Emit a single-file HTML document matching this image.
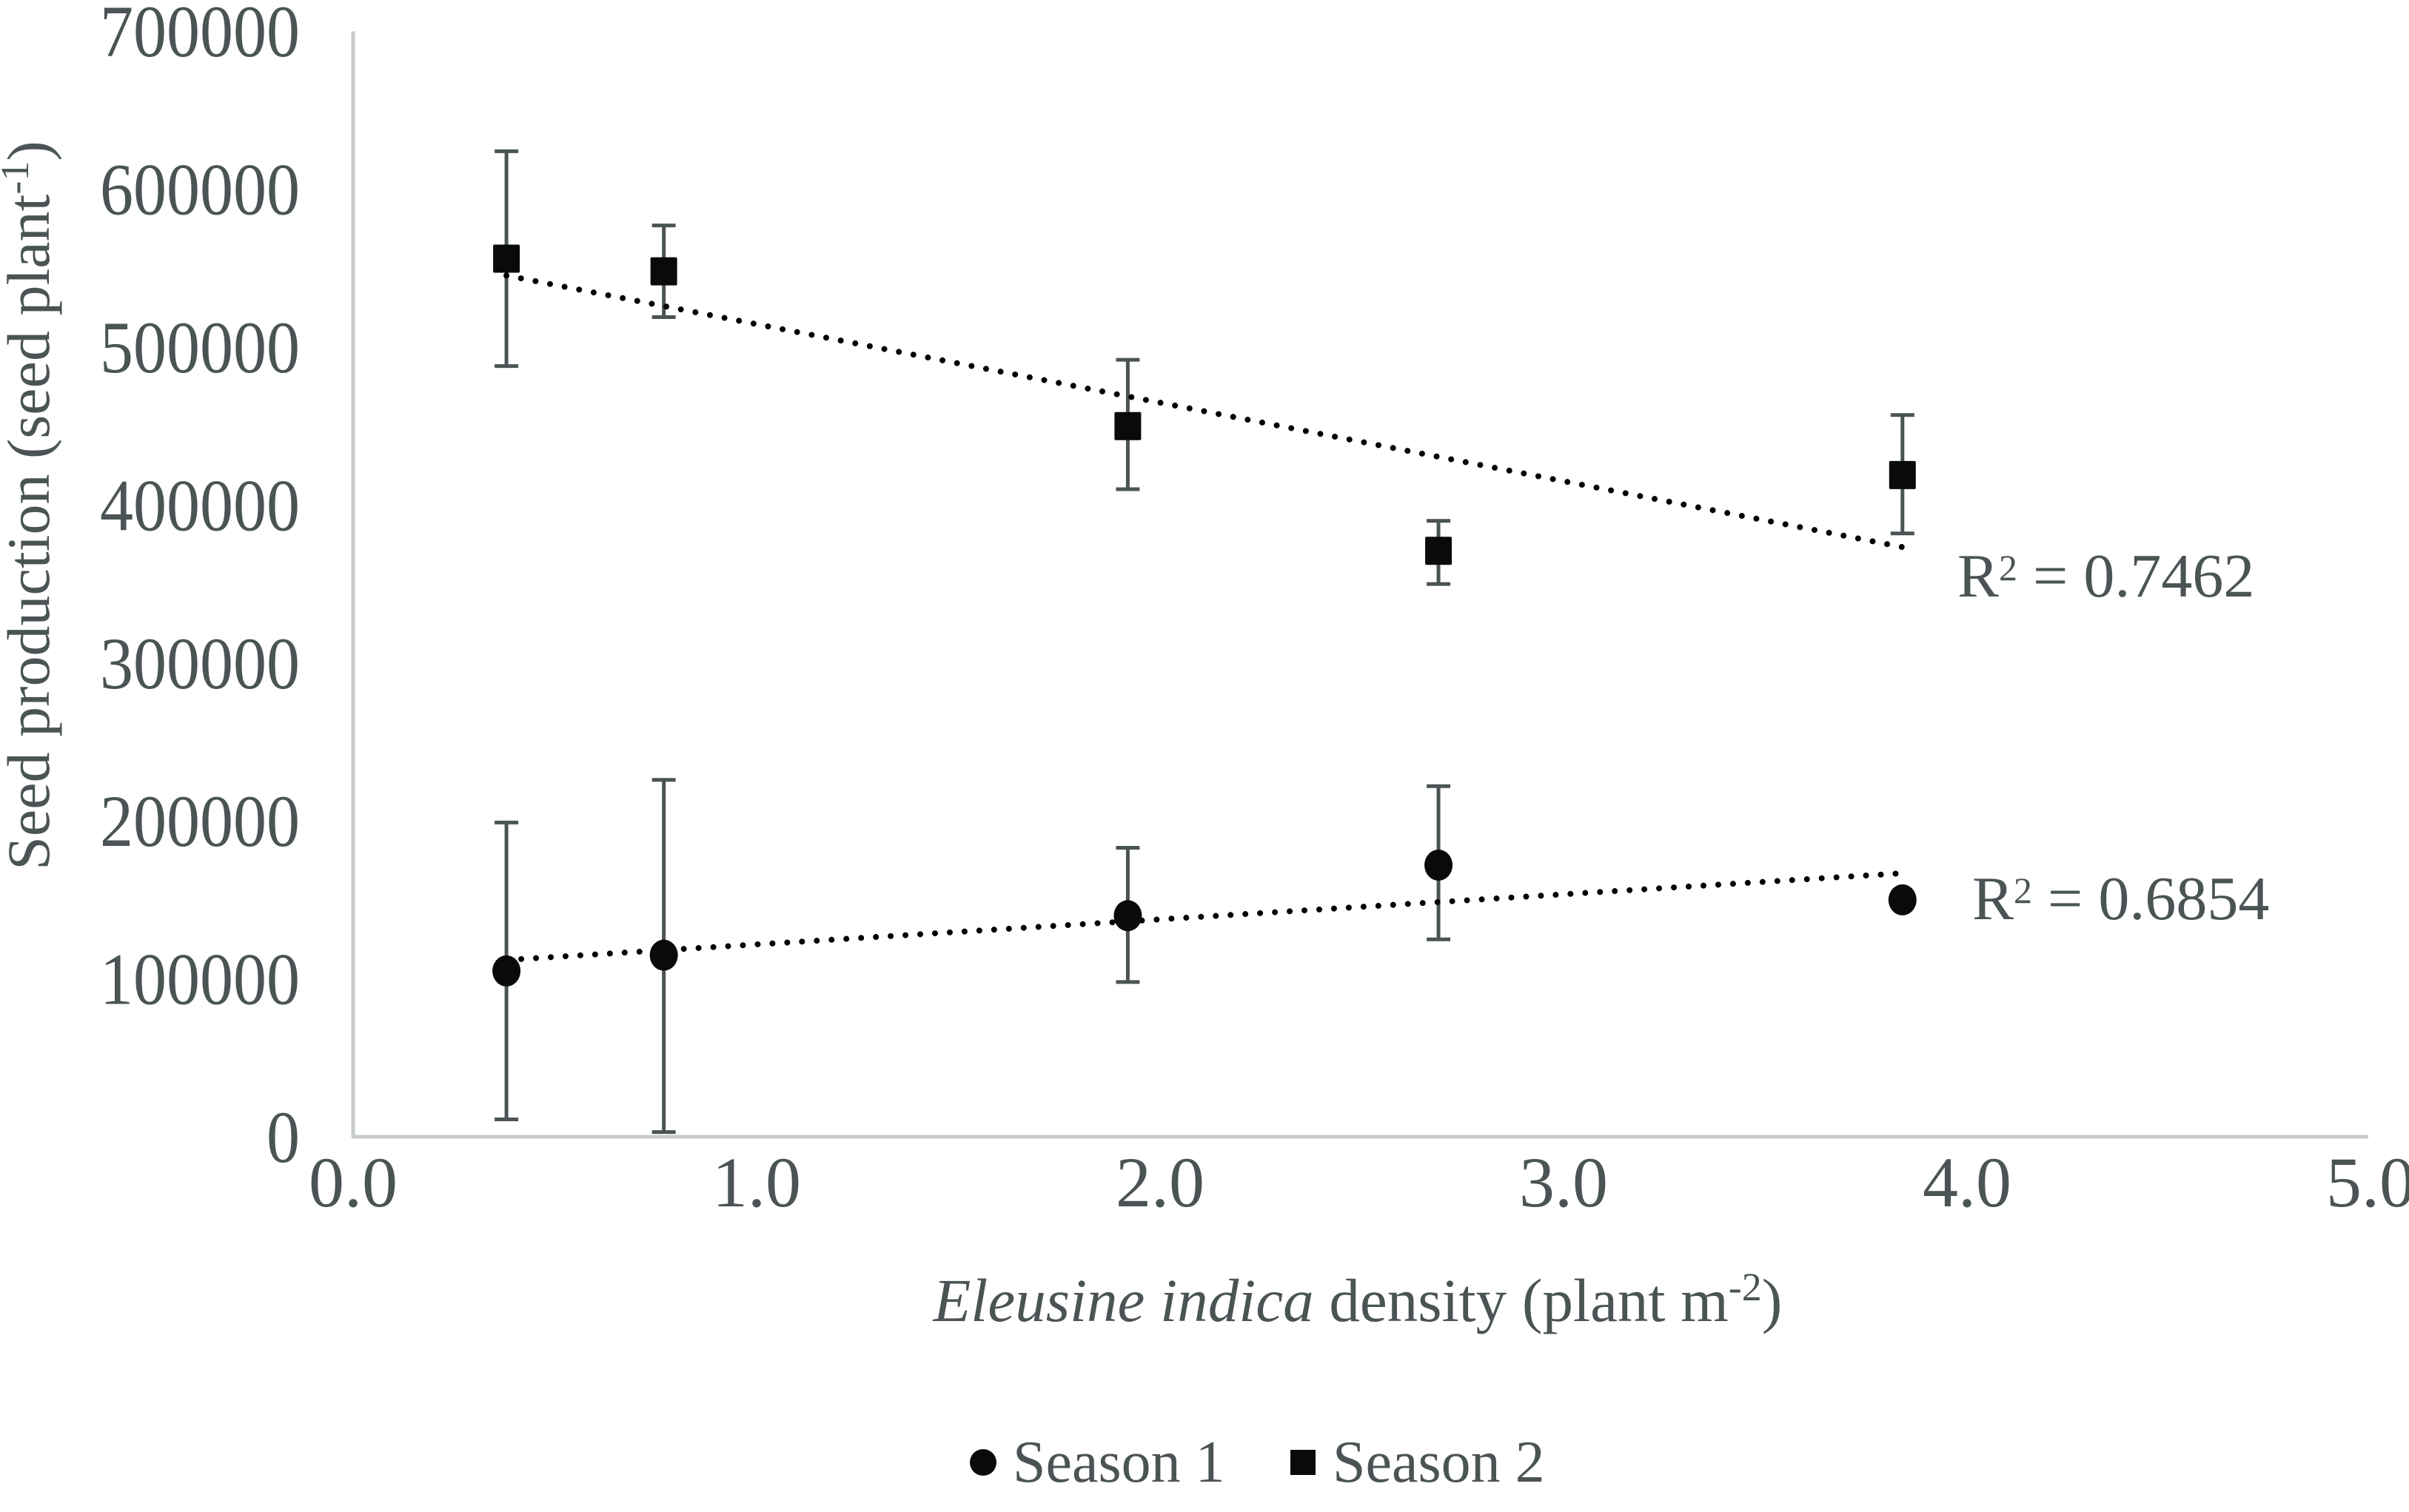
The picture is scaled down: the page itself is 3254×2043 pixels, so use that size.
<!DOCTYPE html>
<html><head><meta charset="utf-8"><style>
html,body{margin:0;padding:0;background:#fff;}
svg text{font-family:"Liberation Serif",serif;fill:#4b5455;}
</style></head><body>
<svg id="chart" width="3254" height="2038" viewBox="0 0 3254 2038" xmlns="http://www.w3.org/2000/svg">
<rect width="3254" height="2038" fill="#fff"/>
<g id="axes"></g>
<g id="plot"></g>
<text transform="translate(66,683) rotate(-90)" text-anchor="middle" font-size="82">Seed production (seed plant<tspan font-size="54" dy="-28">-1</tspan><tspan dy="28">)</tspan></text>
<text x="1834" y="1785" text-anchor="middle" font-size="83"><tspan font-style="italic">Eleusine indica</tspan> density (plant m<tspan font-size="54" dy="-28">-2</tspan><tspan dy="28">)</tspan></text>
<text x="2644" y="806" font-size="84">R<tspan font-size="50" dy="-22">2</tspan><tspan dy="22"> = 0.7462</tspan></text>
<text x="2664" y="1242" font-size="84">R<tspan font-size="50" dy="-22">2</tspan><tspan dy="22"> = 0.6854</tspan></text>
<g>
<circle cx="1328" cy="1976" r="18" fill="#0a0a0a"/>
<text x="1368" y="2002" font-size="80">Season 1</text>
<rect x="1743" y="1959" width="34" height="34" fill="#0a0a0a"/>
<text x="1800" y="2002" font-size="80">Season 2</text>
</g>
</svg>
<script>
const xValues1 = [0.38, 0.77, 1.92, 2.69, 3.84];
const yValues1 = [105000, 115000, 140000, 172000, 150000];
const errHigh1 = [199000, 226000, 183000, 222000, 150000];
const errLow1 = [11000, 3000, 98000, 125000, 150000];
const xValues2 = [0.38, 0.77, 1.92, 2.69, 3.84];
const yValues2 = [556000, 548000, 450000, 371000, 419000];
const errHigh2 = [624000, 577000, 492000, 390000, 457000];
const errLow2 = [488000, 519000, 410000, 350000, 382000];
const yTicks = [0, 100000, 200000, 300000, 400000, 500000, 600000, 700000];
const xTicks = ["0.0", "1.0", "2.0", "3.0", "4.0", "5.0"];

const NS = "http://www.w3.org/2000/svg";
const X0 = 477, XS = 545, Y0 = 1536, YS = 213.4 / 100000;
const sx = v => X0 + v * XS;
const sy = v => Y0 - v * YS;
function mk(tag, attrs, parent) {
  const e = document.createElementNS(NS, tag);
  for (const k in attrs) e.setAttribute(k, attrs[k]);
  parent.appendChild(e);
  return e;
}
const axes = document.getElementById('axes');
const plot = document.getElementById('plot');

let a = mk('line', {x1: X0, y1: sy(700000), x2: X0, y2: Y0, stroke: '#c5ccc9', 'stroke-width': 5}, axes);


a = mk('line', {x1: X0 - 2, y1: Y0, x2: 3199, y2: Y0, stroke: '#c5ccc9', 'stroke-width': 5}, axes);



yTicks.forEach(v => {
  const s = String(v);
  const t = mk('text', {x: 405, y: sy(v) + 34, 'text-anchor': 'end', 'font-size': 100}, axes);
  t.textContent = s;
  t.setAttribute('textLength', s.length * 45);
  t.setAttribute('lengthAdjust', 'spacingAndGlyphs');
  
  
});
xTicks.forEach(s => {
  const t = mk('text', {x: sx(parseFloat(s)), y: 1630, 'text-anchor': 'middle', 'font-size': 96}, axes);
  t.textContent = s;
  
  
});

function trend(xs, ys, name) {
  const n = xs.length;
  const mx = xs.reduce((p, c) => p + c, 0) / n, my = ys.reduce((p, c) => p + c, 0) / n;
  let sxy = 0, sxx = 0;
  for (let i = 0; i < n; i++) { sxy += (xs[i] - mx) * (ys[i] - my); sxx += (xs[i] - mx) ** 2; }
  const b = sxy / sxx, c = my - b * mx;
  const xa = Math.min(...xs), xb = Math.max(...xs);
  const l = mk('line', {x1: sx(xa), y1: sy(c + b * xa), x2: sx(xb), y2: sy(c + b * xb), stroke: '#000', 'stroke-width': 8, 'stroke-linecap': 'round', 'stroke-dasharray': '0 20'}, plot);
  
  
}
function errs(xs, hi, lo, name) {
  xs.forEach((x, i) => {
    if (hi[i] === lo[i]) return;
    const g = mk('g', {stroke: '#4b5455', 'stroke-width': 5}, plot);
    
    
    mk('line', {x1: sx(x), y1: sy(hi[i]), x2: sx(x), y2: sy(lo[i])}, g);
    mk('line', {x1: sx(x) - 16, y1: sy(hi[i]), x2: sx(x) + 16, y2: sy(hi[i])}, g);
    mk('line', {x1: sx(x) - 16, y1: sy(lo[i]), x2: sx(x) + 16, y2: sy(lo[i])}, g);
  });
}
errs(xValues1, errHigh1, errLow1, 'error-bar-season-1');
errs(xValues2, errHigh2, errLow2, 'error-bar-season-2');
trend(xValues1, yValues1, 'trendline-season-1');
trend(xValues2, yValues2, 'trendline-season-2');
xValues1.forEach((x, i) => {
  const c = mk('ellipse', {cx: sx(x), cy: sy(yValues1[i]), rx: 19, ry: 21, fill: '#0a0a0a'}, plot);
  
  
});
xValues2.forEach((x, i) => {
  const r = mk('rect', {x: sx(x) - 18, y: sy(yValues2[i]) - 19, width: 36, height: 38, rx: 2, fill: '#0a0a0a'}, plot);
  
  
});
</script>
</body></html>
